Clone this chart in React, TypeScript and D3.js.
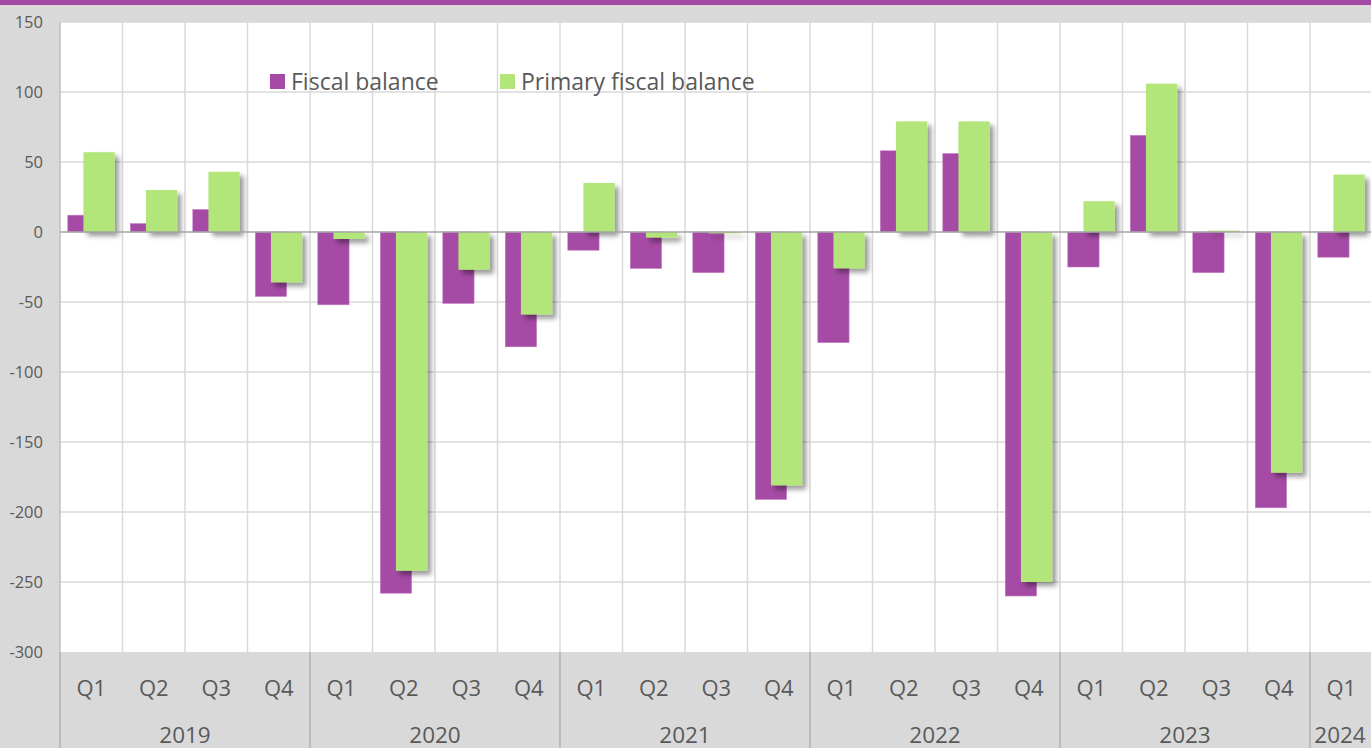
import React, { useEffect, useRef } from 'react';
import * as d3 from 'd3';

const years = ['2019', '2020', '2021', '2022', '2023', '2024'];
const quarters = ['Q1', 'Q2', 'Q3', 'Q4'];
// period keys, 2019Q1 .. 2024Q1
const periods = [
  '2019-Q1', '2019-Q2', '2019-Q3', '2019-Q4',
  '2020-Q1', '2020-Q2', '2020-Q3', '2020-Q4',
  '2021-Q1', '2021-Q2', '2021-Q3', '2021-Q4',
  '2022-Q1', '2022-Q2', '2022-Q3', '2022-Q4',
  '2023-Q1', '2023-Q2', '2023-Q3', '2023-Q4',
  '2024-Q1',
];
const fiscalBalance = [
  12, 6, 16, -46,
  -52, -258, -51, -82,
  -13, -26, -29, -191,
  -79, 58, 56, -260,
  -25, 69, -29, -197,
  -18,
];
const primaryBalance = [
  57, 30, 43, -36,
  -5, -242, -27, -59,
  35, -4, -1, -181,
  -26, 79, 79, -250,
  22, 106, 1, -172,
  41,
];
const yTicks = [150, 100, 50, 0, -50, -100, -150, -200, -250, -300];
const seriesNames = ['Fiscal balance', 'Primary fiscal balance'];

const W = 1371;
const H = 748;
const PURPLE = '#A54BA5';
const GREEN = '#B3E67A';
const FONT = "'Open Sans', 'Noto Sans', sans-serif";

const App: React.FC = () => {
  const svgRef = useRef<SVGSVGElement | null>(null);

  useEffect(() => {
    if (!svgRef.current) return;
    const svg = d3.select(svgRef.current);
    svg.selectAll('*').remove();

    const plot = { left: 60, top: 22, bottom: 652 };
    const slot = 62.5;

    const x = d3.scaleBand<string>()
      .domain(periods)
      .range([plot.left, plot.left + slot * periods.length])
      .padding(0);

    const y = d3.scaleLinear()
      .domain([-300, 150])
      .range([plot.bottom, plot.top]);

    const bw = x.bandwidth();

    const defs = svg.append('defs');
    const f = defs.append('filter').attr('id', 'shadow')
      .attr('x', '-20%').attr('y', '-20%').attr('width', '160%').attr('height', '160%');
    f.append('feDropShadow')
      .attr('dx', 4).attr('dy', 4).attr('stdDeviation', 2.5)
      .attr('flood-color', '#000').attr('flood-opacity', 0.4);

    // background
    svg.append('rect').attr('width', W).attr('height', H).attr('fill', '#d9d9d9');
    svg.append('rect').attr('width', W).attr('height', 5).attr('fill', '#a349a4');
    svg.append('rect')
      .attr('x', plot.left).attr('y', plot.top)
      .attr('width', W - plot.left).attr('height', plot.bottom - plot.top)
      .attr('fill', '#ffffff');

    // horizontal gridlines
    svg.append('g').selectAll('line')
      .data(yTicks.filter(d => d !== 0 && d !== -300))
      .join('line')
      .attr('x1', plot.left).attr('x2', W)
      .attr('y1', d => y(d)).attr('y2', d => y(d))
      .attr('stroke', '#d9d9d9').attr('stroke-width', 1.5);

    // vertical gridlines at quarter boundaries
    svg.append('g').selectAll('line')
      .data(periods.slice(1))
      .join('line')
      .attr('x1', d => x(d)!).attr('x2', d => x(d)!)
      .attr('y1', plot.top).attr('y2', plot.bottom)
      .attr('stroke', '#d9d9d9').attr('stroke-width', 1.5);

    // year separators in category band
    const yearStarts = years.map(yr => `${yr}-Q1`);
    svg.append('g').selectAll('line')
      .data(yearStarts)
      .join('line')
      .attr('x1', d => x(d)!).attr('x2', d => x(d)!)
      .attr('y1', plot.bottom).attr('y2', H)
      .attr('stroke', '#a6a6a6').attr('stroke-width', 1.2);

    // left axis line
    svg.append('line')
      .attr('x1', plot.left).attr('x2', plot.left)
      .attr('y1', plot.top).attr('y2', plot.bottom)
      .attr('stroke', '#bfbfbf').attr('stroke-width', 1.5);

    // bars
    const data = periods.map((p, i) => ({ p, fb: fiscalBalance[i], pb: primaryBalance[i] }));

    svg.append('g').selectAll('rect')
      .data(data)
      .join('rect')
      .attr('x', d => x(d.p)! + bw * 0.125)
      .attr('width', bw * 0.5)
      .attr('y', d => y(Math.max(0, d.fb)))
      .attr('height', d => Math.abs(y(d.fb) - y(0)))
      .attr('fill', PURPLE)
      .attr('stroke', '#c07ac0').attr('stroke-width', 0.6);

    svg.append('g').attr('filter', 'url(#shadow)').selectAll('rect')
      .data(data)
      .join('rect')
      .attr('x', d => x(d.p)! + bw * 0.375)
      .attr('width', bw * 0.5)
      .attr('y', d => y(Math.max(0, d.pb)))
      .attr('height', d => Math.abs(y(d.pb) - y(0)))
      .attr('fill', GREEN);

    // zero line
    svg.append('line')
      .attr('x1', plot.left).attr('x2', W)
      .attr('y1', y(0)).attr('y2', y(0))
      .attr('stroke', '#a6a6a6').attr('stroke-width', 1.5);

    // y tick labels
    svg.append('g').selectAll('text')
      .data(yTicks)
      .join('text')
      .attr('x', 43)
      .attr('y', d => y(d))
      .attr('dy', '0.35em')
      .attr('text-anchor', 'end')
      .attr('font-family', FONT)
      .attr('font-size', 16.5)
      .attr('fill', '#595959')
      .text(d => d);

    // quarter labels
    svg.append('g').selectAll('text')
      .data(periods)
      .join('text')
      .attr('x', d => x(d)! + bw / 2)
      .attr('y', 688)
      .attr('dy', '0.35em')
      .attr('text-anchor', 'middle')
      .attr('font-family', FONT)
      .attr('font-size', 22)
      .attr('fill', '#595959')
      .text(d => quarters[quarters.indexOf(d.split('-')[1])]);

    // year labels
    svg.append('g').selectAll('text')
      .data(years)
      .join('text')
      .attr('x', yr => {
        const ps = periods.filter(p => p.startsWith(yr));
        const x0 = x(ps[0])!;
        const x1 = Math.min(W, x(ps[ps.length - 1])! + bw);
        return yr === '2024' ? x0 + 30 : (x0 + x1) / 2;
      })
      .attr('y', 743)
      .attr('text-anchor', 'middle')
      .attr('font-family', FONT)
      .attr('font-size', 22.5)
      .attr('fill', '#595959')
      .text(d => d);

    // legend
    const legend = svg.append('g');
    const legendX = [270, 500];
    const colors = [PURPLE, GREEN];
    seriesNames.forEach((name, i) => {
      legend.append('rect')
        .attr('x', legendX[i]).attr('y', 74)
        .attr('width', 15).attr('height', 15)
        .attr('fill', colors[i]);
      legend.append('text')
        .attr('x', legendX[i] + 21).attr('y', 82)
        .attr('dy', '0.35em')
        .attr('font-family', FONT)
        .attr('font-size', 23)
        .attr('fill', '#595959')
        .text(name);
    });
  }, []);

  return (
    <svg
      ref={svgRef}
      width={W}
      height={H}
      style={{ position: 'fixed', left: 0, top: 0, display: 'block' }}
    ></svg>
  );
};

export default App;
